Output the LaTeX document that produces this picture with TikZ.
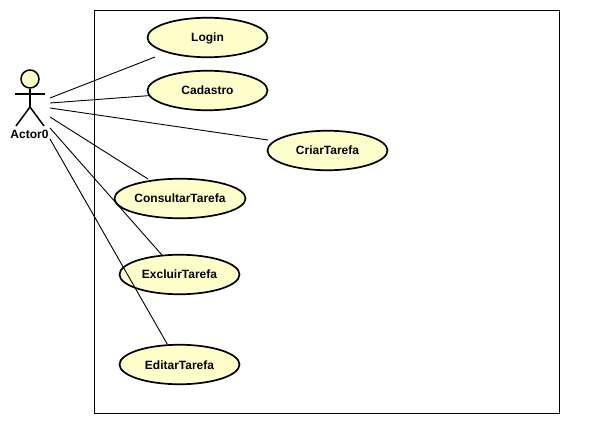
\documentclass[tikz,border=0pt]{standalone}
\usepackage{fontspec}
\setmainfont{Liberation Sans}
\usepackage{xcolor}
\usetikzlibrary{shapes.geometric}
\definecolor{casefill}{RGB}{255,255,204}
\tikzset{
    usecase/.style={draw, ellipse, line width=1.7pt, fill=casefill, inner sep=0pt, minimum height=39.5pt, text height=9pt, text depth=0pt, font=\fontsize{12}{14}\selectfont\bfseries},
    assoc/.style={line width=0.9pt}
}
\begin{document}
\begin{tikzpicture}[x=1pt, y=-1pt]
        \useasboundingbox (0, 0) rectangle (591, 427);

        % System box
        \node[draw, rectangle, line width=0.9pt, minimum width=465pt, minimum height=402.5pt, inner sep=0pt] (system) at (327, 211.75) {};

        % Use cases
        \node[usecase, minimum width=120pt] (login) at (207.5, 37.5) {Login};
        \node[usecase, minimum width=120pt] (cadastro) at (207.5, 90.5) {Cadastro};
        \node[usecase, minimum width=120pt] (criar) at (327.5, 150.5) {CriarTarefa};
        \node[usecase, minimum width=131pt] (consultar) at (180, 198.5) {ConsultarTarefa};
        \node[usecase, minimum width=120pt] (excluir) at (179.5, 274.5) {ExcluirTarefa};
        \node[usecase, minimum width=120pt] (editar) at (179.5, 364.5) {EditarTarefa};

        % Actor
        \node[draw, circle, line width=1.5pt, fill=casefill, minimum size=18pt, inner sep=0pt] (head) at (30, 79) {};
        \coordinate (hip) at (30, 107);
        \coordinate (armL) at (15, 94);
        \coordinate (armR) at (45, 94);
        \coordinate (footL) at (16, 126);
        \coordinate (footR) at (44, 126);
        \draw[line width=1.5pt] (head) -- (hip);
        \draw[line width=1.5pt] (armL) -- (armR);
        \draw[line width=1.5pt] (footL) -- (hip) -- (footR);
        \node[font=\fontsize{12}{14}\selectfont\bfseries, inner sep=0pt] (actor) at (29.5, 134) {Actor0};

        % Connections
        \coordinate (a1) at (50, 98);
        \coordinate (a2) at (50, 103);
        \coordinate (a3) at (50, 108);
        \coordinate (a4) at (50, 117);
        \coordinate (a5) at (50, 128);
        \coordinate (a6) at (50, 139);
        \coordinate (loginEnd) at (155, 57);
        \coordinate (criarEnd) at (268, 140);
        \coordinate (consultarEnd) at (148, 179);
        \draw[assoc] (a1) -- (loginEnd);
        \draw[assoc] (a2) -- (cadastro.185);
        \draw[assoc] (a3) -- (criarEnd);
        \draw[assoc] (a4) -- (consultarEnd);
        \draw[assoc] (a5) -- (excluir.132);
        \draw[assoc] (a6) -- (editar.121);
    \end{tikzpicture}
\end{document}
